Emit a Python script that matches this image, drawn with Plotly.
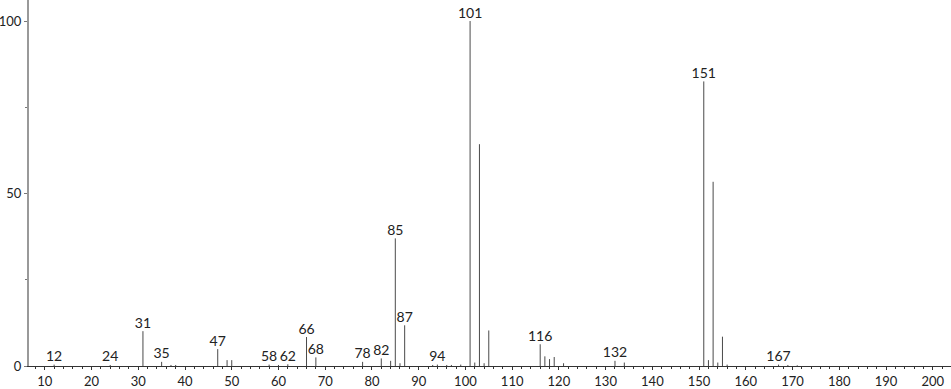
import plotly.graph_objects as go

# m/z values and relative intensities (%)
mz = [12, 24, 31, 35, 37, 38, 47, 49, 50, 58, 60, 62, 66, 68, 78, 82, 84, 85, 86, 87,
      93, 94, 96, 97, 99, 101, 102, 103, 104, 105, 116, 117, 118, 119, 121,
      132, 134, 151, 152, 153, 154, 155, 156, 167, 169, 171]
intensity = [0.4, 0.3, 10.1, 1.2, 0.3, 0.3, 4.9, 1.7, 1.7, 0.4, 0.3, 0.5, 8.4, 2.5, 1.2, 2.2, 1.5, 37.0, 0.8, 11.8,
             0.3, 0.4, 0.3, 0.3, 0.4, 100.0, 1.0, 64.3, 0.8, 10.3, 6.3, 2.8, 2.0, 2.6, 0.8,
             1.5, 1.0, 82.5, 1.7, 53.4, 1.0, 8.5, 0.4, 0.4, 0.3, 0.2]

labeled_mz = [12, 24, 31, 35, 47, 58, 62, 66, 68, 78, 82, 85, 87, 94, 101, 116, 132, 151, 167]

x_ticks = list(range(10, 201, 10))
y_ticks = [0, 50, 100]

FONT = "Lato"

xs, ys = [], []
for m, v in zip(mz, intensity):
    xs += [m, m, None]
    ys += [0, v, None]

lookup = dict(zip(mz, intensity))
lab_x = labeled_mz
lab_y = [lookup[m] for m in labeled_mz]
lab_t = [str(m) for m in labeled_mz]

fig = go.Figure()
fig.add_trace(go.Scatter(x=xs, y=ys, mode="lines",
                         line=dict(color="#4a4a4a", width=1),
                         hoverinfo="skip", showlegend=False))
fig.add_trace(go.Scatter(x=lab_x, y=lab_y, mode="text", text=lab_t,
                         textposition="top center",
                         textfont=dict(family=FONT, size=14, color="#222"),
                         hoverinfo="skip", showlegend=False, cliponaxis=False))

fig.update_layout(
    width=951, height=389,
    margin=dict(l=29, r=0, t=0, b=23, pad=0),
    plot_bgcolor="white", paper_bgcolor="white",
    font=dict(family=FONT, size=13, color="#222"),
    xaxis=dict(range=[6.62, 203.9], tickvals=x_ticks, ticks="outside", ticklen=3,
               tickcolor="#333", showgrid=False, zeroline=False, automargin=False,
               showline=True, linecolor="#333", linewidth=1,
               minor=dict(dtick=2, ticks="outside", ticklen=2, tickcolor="#333"),
               tickfont=dict(family=FONT, size=13, color="#222")),
    yaxis=dict(range=[0, 106.1], tickvals=y_ticks, ticks="outside", ticklen=3,
               tickcolor="#777", showgrid=False, zeroline=False, automargin=False,
               showline=True, linecolor="#999", linewidth=2,
               minor=dict(tickvals=[25, 75], ticks="outside", ticklen=2, tickcolor="#777"),
               tickfont=dict(family=FONT, size=13, color="#222")),
)

fig.write_html("out.html")
